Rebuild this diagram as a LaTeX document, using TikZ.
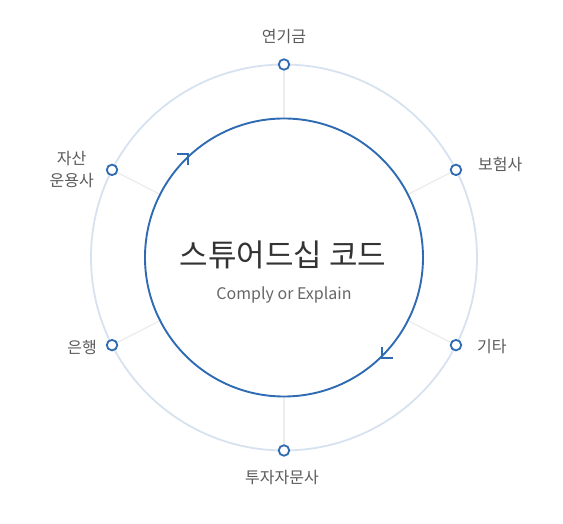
\documentclass[tikz,border=0pt]{standalone}
\usepackage{fontspec}
\setmainfont{Noto Sans CJK KR}
\usetikzlibrary{positioning}
\definecolor{ringblue}{HTML}{D6E2EF}
\definecolor{mainblue}{HTML}{2F6BB3}
\definecolor{spokegray}{HTML}{ECECEC}
\definecolor{labelgray}{HTML}{5A5A5A}

\begin{document}
\begin{tikzpicture}[x=1pt,y=1pt,
	dot/.style={circle,draw=mainblue,fill=white,line width=1.8pt,minimum size=10.5pt,inner sep=0pt},
	lbl/.style={text=labelgray,font=\fontsize{16}{19}\selectfont,align=center,inner sep=0pt}]
			\useasboundingbox (-284,-266.5) rectangle (279,257.5);

			\draw[ringblue,line width=1.8pt] (0,0) circle (193);
			\foreach \a in {90,27,-27,-90,-153,153}
			\draw[spokegray,line width=1.3pt] (\a:139) -- (\a:193);
			\draw[mainblue,line width=1.9pt] (0,0) circle (139);

			\draw[mainblue,line width=1.5pt] (-107,103.5) -- (-96,103.5) -- (-96,92.5);
			\draw[mainblue,line width=1.5pt] (109,-100.5) -- (98,-100.5) -- (98,-89.5);

			\foreach \a/\n in {90/n1,27/n2,-27/n3,-90/n4,-153/n5,153/n6}
			\node[dot] (\n) at (\a:193) {};

			\node[lbl] (pension) at (0,221) {연기금};
			\node[lbl,anchor=west] (insurer) at (194,93.5) {보험사};
			\node[lbl,anchor=west] (other) at (193,-89.5) {기타};
			\node[lbl] (advisor) at (-2,-220.5) {투자자문사};
			\node[lbl,anchor=east] (bank) at (-187,-89.5) {은행};
			\node[lbl,anchor=east,font=\fontsize{16}{22}\selectfont] (asset) at (-190,87.5) {자산\\운용사};

			\node[text=black!80,font=\fontsize{31}{35}\selectfont] (title) at (-1,2.5) {스튜어드십 코드};
			\node[text=black!60,font=\fontsize{16}{20}\selectfont] (sub) at (0,-37.5) {Comply or Explain};
		\end{tikzpicture}
\end{document}
